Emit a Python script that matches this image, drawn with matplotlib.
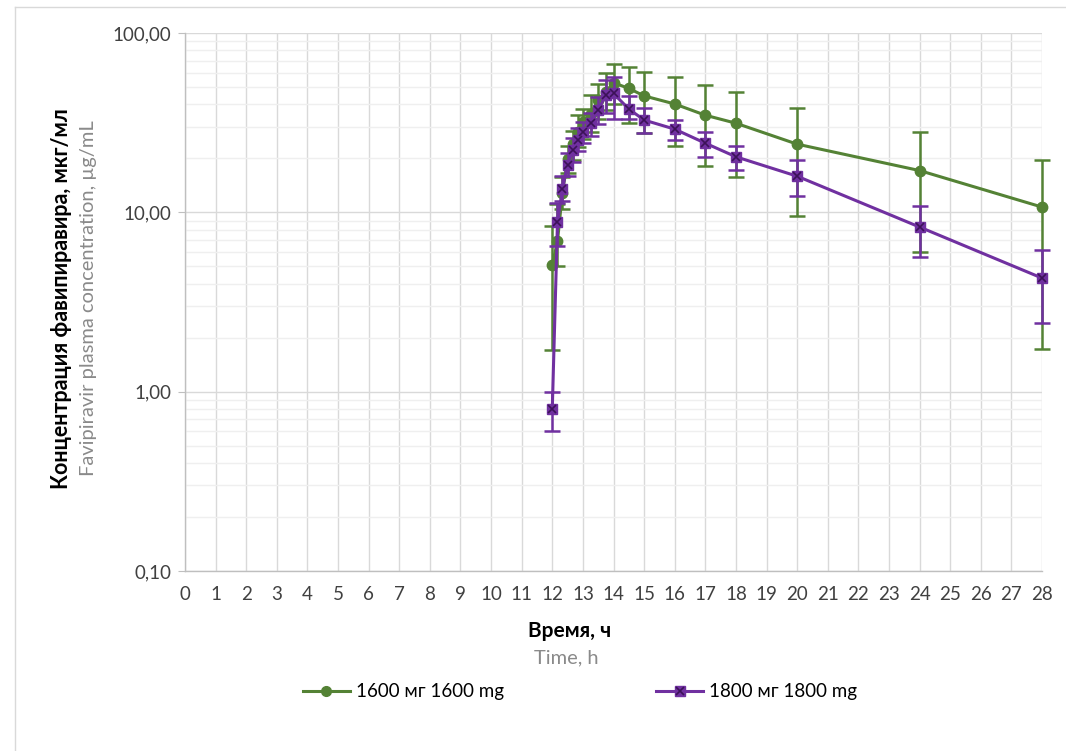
import matplotlib
matplotlib.use("Agg")
import matplotlib.pyplot as plt
from matplotlib.lines import Line2D
from matplotlib.legend_handler import HandlerTuple
from matplotlib.ticker import FixedLocator, FuncFormatter, LogLocator, NullFormatter

plt.rcParams['font.family'] = ['Lato', 'DejaVu Sans']

# Sampling times, h
time_h = [12, 12.17, 12.33, 12.5, 12.67, 12.83, 13, 13.25, 13.5, 13.75,
          14, 14.5, 15, 16, 17, 18, 20, 24, 28]

# 1600 mg: mean concentration and error bar bounds, µg/mL
conc_1600 = [5.1, 6.9, 12.8, 19.8, 24.0, 28.2, 31.9, 35.4, 42.1, 47.1,
             52.8, 49.1, 44.6, 40.2, 34.8, 31.4, 24.0, 17.1, 10.7]
upper_1600 = [8.4, 11.1, 15.8, 23.5, 28.5, 35.0, 37.5, 45.0, 52.0, 60.0,
              67.5, 65.0, 60.7, 56.8, 51.3, 46.7, 38.4, 27.9, 19.6]
lower_1600 = [1.7, 5.05, 10.5, 16.5, 19.5, 23.0, 25.5, 28.0, 33.0, 37.0,
              40.0, 31.6, 27.6, 23.5, 18.2, 15.8, 9.6, 6.0, 1.73]

# 1800 mg: mean concentration and error bar bounds, µg/mL
conc_1800 = [0.8, 8.8, 13.5, 18.4, 22.3, 25.4, 28.2, 31.3, 37.2, 45.1,
             46.0, 37.7, 32.7, 29.1, 24.3, 20.4, 15.9, 8.28, 4.3]
upper_1800 = [1.0, 11.3, 16.0, 21.5, 26.0, 29.5, 32.0, 36.0, 44.0, 55.0,
              57.0, 44.5, 38.1, 32.6, 27.9, 23.5, 19.6, 10.9, 6.2]
lower_1800 = [0.6, 6.45, 11.5, 16.0, 19.0, 22.0, 24.5, 26.5, 31.0, 36.0,
              33.0, 33.0, 27.6, 25.4, 20.3, 17.2, 12.4, 5.67, 2.43]

label_1600 = "1600 мг 1600 mg"
label_1800 = "1800 мг 1800 mg"
y_ticks = [0.1, 1, 10, 100]
x_ticks = list(range(0, 29))

GREEN = "#548235"
PURPLE = "#7030A0"
DARK_PURPLE = "#3c1258"
GREY_TEXT = "#8a8a8a"

W, H = 1066, 751
fig = plt.figure(figsize=(W / 100, H / 100), dpi=100)
ax = fig.add_axes([185 / W, 1 - 571 / H, (1042 - 185) / W, (571 - 33) / H])

def err(vals, lo, hi):
    return [[v - l for v, l in zip(vals, lo)], [h - v for v, h in zip(vals, hi)]]

for line_set in (
    ax.errorbar(time_h, conc_1600, yerr=err(conc_1600, lower_1600, upper_1600),
                color=GREEN, lw=2.2, marker='o', ms=7.5, mfc=GREEN, mec=GREEN,
                elinewidth=1.8, capsize=5.5, capthick=1.8, zorder=3),
    ax.errorbar(time_h, conc_1800, yerr=err(conc_1800, lower_1800, upper_1800),
                color=PURPLE, lw=2.2, marker='s', ms=7, mfc=PURPLE, mec=PURPLE,
                elinewidth=1.8, capsize=5.5, capthick=1.8, zorder=4),
):
    for art in line_set.get_children():
        art.set_clip_on(False)
ax.plot(time_h, conc_1800, ls='none', marker='x', ms=6, mew=1.2,
        color=DARK_PURPLE, zorder=5, clip_on=False)

ax.set_yscale('log')
ax.set_xlim(0, 28)
ax.set_ylim(0.1, 100)

ax.yaxis.set_major_locator(FixedLocator(y_ticks))
ax.yaxis.set_major_formatter(FuncFormatter(lambda v, p: f"{v:.2f}".replace('.', ',')))
ax.yaxis.set_minor_locator(LogLocator(base=10, subs=range(2, 10)))
ax.yaxis.set_minor_formatter(NullFormatter())
ax.xaxis.set_major_locator(FixedLocator(x_ticks))

ax.grid(True, which='major', axis='both', color='#d9d9d9', lw=1.0, zorder=0)
ax.grid(True, which='minor', axis='y', color='#efefef', lw=1.0, zorder=0)
ax.set_axisbelow(True)

for side in ('top', 'right'):
    ax.spines[side].set_visible(False)
for side in ('left', 'bottom'):
    ax.spines[side].set_color('#bfbfbf')
    ax.spines[side].set_linewidth(1.0)

ax.tick_params(axis='y', which='major', length=5, color='#bfbfbf',
               labelsize=13.5, labelcolor='#404040', pad=5)
ax.tick_params(axis='y', which='minor', length=0)
ax.tick_params(axis='x', which='major', length=0, labelsize=13.5,
               labelcolor='#404040', pad=11)

# Axis titles (Russian bold, English grey)
fig.text(62 / W, 1 - 299 / H, "Концентрация фавипиравира, мкг/мл", rotation=90,
         ha='center', va='center', fontsize=15.5, fontweight='bold', color='black')
fig.text(89 / W, 1 - 298 / H, "Favipiravir plasma concentration, µg/mL", rotation=90,
         ha='center', va='center', fontsize=14.5, color=GREY_TEXT)
fig.text(570 / W, 1 - 631 / H, "Время, ч", ha='center', va='center',
         fontsize=15, fontweight='bold', color='black')
fig.text(566 / W, 1 - 658 / H, "Time, h", ha='center', va='center',
         fontsize=14.5, color=GREY_TEXT)

# Legend
h1600 = Line2D([], [], color=GREEN, lw=2.2, marker='o', ms=7, mfc=GREEN, mec=GREEN)
h1800 = (Line2D([], [], color=PURPLE, lw=2.2, marker='s', ms=7, mfc=PURPLE, mec=PURPLE),
         Line2D([], [], ls='none', marker='x', ms=6, mew=1.2, color=DARK_PURPLE))
fig.legend([h1600, h1800], [label_1600, label_1800], ncol=2, frameon=False,
           loc='center left', bbox_to_anchor=(303 / W, 1 - 692 / H),
           handlelength=2.5, handletextpad=0.3, columnspacing=8.15,
           fontsize=13.5, borderpad=0, borderaxespad=0,
           handler_map={tuple: HandlerTuple(ndivide=1)})

# Chart area frame
fig.add_artist(Line2D([15 / W, 15 / W], [0, 1 - 7 / H], color='#d9d9d9', lw=1.0))
fig.add_artist(Line2D([15 / W, 1], [1 - 7 / H, 1 - 7 / H], color='#d9d9d9', lw=1.0))

fig.savefig("out.png", dpi=100, facecolor='white')
